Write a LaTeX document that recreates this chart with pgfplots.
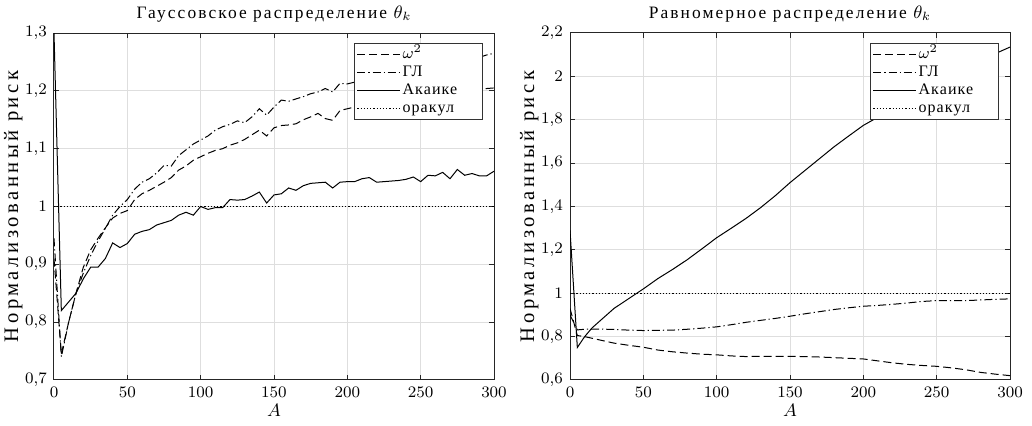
\documentclass[border=0pt]{standalone}
\usepackage{fontspec}
\setmainfont{Liberation Serif}
\newfontfamily\titlefont{Liberation Serif}[LetterSpace=12]
\newfontfamily\ylabfont{Liberation Serif}[LetterSpace=17]
\newfontfamily\legfont{Liberation Serif}[LetterSpace=7]
\usepackage{pgfplots}
\pgfplotsset{compat=1.18}
\newcommand{\legbox}[1]{\makebox[38pt][l]{#1}}
\pgfplotsset{
  myaxis/.style={
    scale only axis, width=220pt, height=173.5pt,
    xmin=0, xmax=300, xtick={0,50,100,150,200,250,300},
    axis line style={draw=black!85, line width=0.5pt},
    tick align=inside, xtick pos=both, ytick pos=both,
    major tick length=2.5pt,
    every tick/.style={black!85, line width=0.5pt},
    xmajorgrids, ymajorgrids, grid style={black!13, line width=0.5pt},
    tick label style={font=\footnotesize},
    xlabel style={font=\small, yshift=3.5pt},
    ylabel style={font=\ylabfont\fontsize{10.3}{12}\selectfont, yshift=-5.5pt},
    title style={font=\titlefont\fontsize{8.7}{10}\selectfont, yshift=-4pt},
    /pgf/number format/.cd, use comma, fixed, precision=1, /pgfplots/.cd,
    xticklabel style={/pgf/number format/precision=0},
    xlabel={$A$}, ylabel={Нормализованный риск},
    legend cell align=left,
    legend style={at={(0.975,0.971)}, anchor=north east, font=\legfont\fontsize{8}{9}\selectfont,
      draw=black!80, line width=0.5pt, fill=white, inner sep=1pt, row sep=0pt,
      nodes={inner xsep=1pt, inner ysep=1pt, text height=5.5pt, text depth=1.5pt}},
    legend image code/.code={\draw[#1] (0cm,0cm) -- (0.75cm,0cm);},
  },
  om/.style={black, line width=0.5pt, dash pattern=on 4pt off 2pt},
  gl/.style={black, line width=0.5pt, dash pattern=on 4pt off 1.5pt on 0.6pt off 1.5pt},
  ak/.style={black, line width=0.5pt, solid},
  orc/.style={black, line width=0.5pt, dash pattern=on 0.6pt off 1pt},
}
\begin{document}
\begin{tikzpicture}
\path[use as bounding box] (-27pt,-23pt) rectangle (489pt,190pt);
\begin{axis}[myaxis, at={(0,0)}, anchor=south west,
  ymin=0.7, ymax=1.3, ytick={0.7,0.8,0.9,1,1.1,1.2,1.3},
  title={Гауссовское распределение $\theta_k$}]
\addplot[om] coordinates {(0,0.91)(5,0.745)(10,0.80)(15,0.85)(20,0.895)(25,0.925)(30,0.945)(35,0.963)(40,0.98)(45,0.988)(50,0.993)(55,1.012)(60,1.022)(65,1.028)(70,1.035)(75,1.042)(80,1.05)(85,1.063)(90,1.07)(95,1.08)(100,1.086)(105,1.092)(110,1.097)(115,1.10)(120,1.106)(125,1.11)(130,1.116)(135,1.124)(140,1.132)(145,1.122)(150,1.136)(155,1.14)(160,1.141)(165,1.143)(170,1.15)(175,1.155)(180,1.161)(185,1.152)(190,1.149)(195,1.166)(200,1.169)(205,1.172)(210,1.175)(215,1.178)(220,1.181)(225,1.183)(230,1.185)(235,1.187)(240,1.189)(245,1.191)(250,1.193)(255,1.194)(260,1.196)(265,1.197)(270,1.199)(275,1.2)(280,1.201)(285,1.202)(290,1.203)(295,1.204)(300,1.205)};
\addlegendentry{\legbox{$\omega^2$}}
\addplot[gl] coordinates {(0,0.945)(5,0.74)(10,0.80)(15,0.85)(20,0.885)(25,0.915)(30,0.94)(35,0.962)(40,0.985)(45,1.0)(50,1.012)(55,1.03)(60,1.042)(65,1.048)(70,1.058)(75,1.071)(80,1.07)(85,1.088)(90,1.098)(95,1.108)(100,1.115)(105,1.122)(110,1.132)(115,1.138)(120,1.142)(125,1.148)(130,1.145)(135,1.155)(140,1.169)(145,1.158)(150,1.172)(155,1.184)(160,1.182)(165,1.186)(170,1.19)(175,1.195)(180,1.198)(185,1.204)(190,1.198)(195,1.213)(200,1.212)(205,1.215)(210,1.22)(215,1.224)(220,1.228)(225,1.232)(230,1.235)(235,1.238)(240,1.241)(245,1.244)(250,1.246)(255,1.249)(260,1.251)(265,1.253)(270,1.255)(275,1.257)(280,1.258)(285,1.259)(290,1.258)(295,1.262)(300,1.265)};
\addlegendentry{\legbox{ГЛ}}
\addplot[ak] coordinates {(0,1.3)(5,0.82)(10,0.835)(15,0.85)(20,0.875)(25,0.895)(30,0.895)(35,0.91)(40,0.937)(45,0.929)(50,0.936)(55,0.952)(60,0.957)(65,0.96)(70,0.968)(75,0.972)(80,0.976)(85,0.985)(90,0.99)(95,0.985)(100,1.0)(105,0.995)(110,0.998)(115,0.998)(120,1.012)(125,1.011)(130,1.012)(135,1.018)(140,1.025)(145,1.006)(150,1.02)(155,1.022)(160,1.032)(165,1.028)(170,1.036)(175,1.04)(180,1.041)(185,1.042)(190,1.032)(195,1.042)(200,1.043)(205,1.043)(210,1.048)(215,1.05)(220,1.042)(225,1.043)(230,1.044)(235,1.045)(240,1.047)(245,1.051)(250,1.043)(255,1.054)(260,1.053)(265,1.059)(270,1.048)(275,1.064)(280,1.054)(285,1.057)(290,1.053)(295,1.053)(300,1.061)};
\addlegendentry{\legbox{Акаике}}
\addplot[orc] coordinates {(0,1)(300,1)};
\addlegendentry{\legbox{оракул}}
\end{axis}
\begin{axis}[myaxis, at={(258pt,0)}, anchor=south west,
  ymin=0.6, ymax=2.2, ytick={0.6,0.8,1,1.2,1.4,1.6,1.8,2,2.2},
  title={Равномерное распределение $\theta_k$}]
\addplot[om] coordinates {(0,0.93)(5,0.805)(10,0.80)(20,0.785)(30,0.77)(40,0.76)(50,0.751)(60,0.738)(70,0.73)(80,0.724)(90,0.719)(100,0.716)(110,0.711)(120,0.708)(130,0.709)(140,0.709)(150,0.709)(160,0.708)(170,0.706)(180,0.703)(190,0.70)(200,0.697)(210,0.688)(220,0.679)(230,0.672)(240,0.667)(250,0.663)(260,0.656)(270,0.647)(280,0.635)(290,0.627)(300,0.62)};
\addlegendentry{\legbox{$\omega^2$}}
\addplot[gl] coordinates {(0,0.90)(5,0.831)(10,0.834)(20,0.835)(30,0.833)(40,0.83)(50,0.828)(60,0.829)(70,0.83)(80,0.834)(90,0.839)(100,0.845)(110,0.855)(120,0.866)(130,0.875)(140,0.884)(150,0.894)(160,0.905)(170,0.915)(180,0.925)(190,0.933)(200,0.94)(210,0.944)(220,0.949)(230,0.955)(240,0.962)(250,0.966)(260,0.966)(270,0.966)(280,0.969)(290,0.972)(300,0.974)};
\addlegendentry{\legbox{ГЛ}}
\addplot[ak] coordinates {(0,1.29)(5,0.75)(10,0.80)(15,0.84)(20,0.87)(25,0.90)(30,0.93)(40,0.975)(50,1.02)(60,1.068)(70,1.11)(80,1.155)(90,1.205)(100,1.256)(110,1.30)(120,1.345)(130,1.395)(140,1.45)(150,1.51)(160,1.565)(170,1.62)(180,1.675)(190,1.725)(200,1.774)(210,1.812)(220,1.85)(230,1.89)(240,1.93)(250,1.965)(260,2.0)(270,2.035)(280,2.07)(290,2.105)(300,2.135)};
\addlegendentry{\legbox{Акаике}}
\addplot[orc] coordinates {(0,1)(300,1)};
\addlegendentry{\legbox{оракул}}
\end{axis}
\end{tikzpicture}
\end{document}
